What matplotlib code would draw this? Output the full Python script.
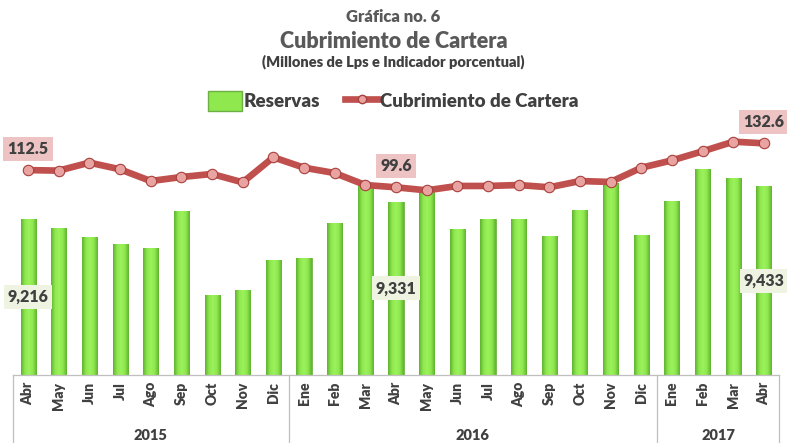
import matplotlib
matplotlib.use("Agg")
import matplotlib.pyplot as plt
import numpy as np
from matplotlib.patches import Patch
from matplotlib.lines import Line2D
from matplotlib.colors import LinearSegmentedColormap
import matplotlib.transforms as mtransforms

plt.rcParams['font.family'] = ['Lato', 'DejaVu Sans']
FW = 'heavy'
plt.rcParams['font.weight'] = FW

months = ["Abr", "May", "Jun", "Jul", "Ago", "Sep", "Oct", "Nov", "Dic",
          "Ene", "Feb", "Mar", "Abr", "May", "Jun", "Jul", "Ago", "Sep", "Oct", "Nov", "Dic",
          "Ene", "Feb", "Mar", "Abr"]
years = ["2015", "2016", "2017"]
year_sizes = [9, 12, 4]

reservas = [9216, 9159, 9096, 9052, 9028, 9271, 8716, 8747, 8949,
            8960, 9192, 9440, 9331, 9400, 9149, 9216, 9216, 9105, 9278, 9451, 9111,
            9337, 9545, 9486, 9433]
cubrimiento = [112.5, 112.1, 118.1, 113.1, 104.3, 107.3, 109.6, 103.3, 122.1,
               114.3, 110.3, 101.3, 99.6, 97.3, 100.6, 100.6, 101.3, 99.6, 104.3, 103.6, 114.3,
               119.8, 126.6, 133.8, 132.6]

label_idx = [0, 12, 24]

W, H = 787, 443
fig = plt.figure(figsize=(W / 100, H / 100), dpi=100)
ax_left, ax_right = 12.7, 779.3
ax_top, ax_bot = 130, 375
ax = fig.add_axes([ax_left / W, 1 - ax_bot / H, (ax_right - ax_left) / W, (ax_bot - ax_top) / H])
ax2 = ax.twinx()

x = np.arange(len(months))
ymin = 8190
ylim = (ymin, ymin + 245 * 6.58)

cmap = LinearSegmentedColormap.from_list("g", ["#5FB22F", "#8EE84E", "#9CF25C", "#8EE84E", "#5FB22F"])
grad = np.linspace(0, 1, 64).reshape(1, -1)
bars = ax.bar(x, np.array(reservas) - ymin, bottom=ymin, width=0.49,
              color="#8EE84E", edgecolor="#6DAF45", linewidth=0.6, zorder=2)
for b in bars:
    bx, by = b.get_x(), b.get_y()
    bw, bh = b.get_width(), b.get_height()
    im = ax.imshow(grad, cmap=cmap, extent=[bx, bx + bw, by, by + bh], aspect='auto', zorder=2.1)
    im.set_clip_path(b)
ax.set_xlim(-0.5, len(months) - 0.5)
ax.set_ylim(*ylim)

ax2.plot(x, cubrimiento, color="#C0504D", lw=4.8, marker='o', markersize=7.5,
         markerfacecolor="#E9A3A1", markeredgecolor="#A8403D", markeredgewidth=0.8,
         solid_capstyle='round', zorder=5)
ax2.set_ylim(99.6 - (375 - 187.3) * 0.75, 99.6 + (187.3 - 130) * 0.75)

for a in (ax, ax2):
    for s in ('top', 'left', 'right'):
        a.spines[s].set_visible(False)
    a.set_yticks([])
ax2.spines['bottom'].set_visible(False)
ax.spines['bottom'].set_color('#BFBFBF')
ax.spines['bottom'].set_linewidth(0.9)

ax.set_xticks(x)
ax.set_xticklabels(months, rotation=90, fontsize=10, color='#404040', fontweight=FW)
ax.tick_params(axis='x', length=0, pad=5)

trans = mtransforms.blended_transform_factory(ax.transData, ax.transAxes)
bounds = np.concatenate([[0], np.cumsum(year_sizes)]) - 0.5
for bd in bounds:
    ax.plot([bd, bd], [0, -0.3], transform=trans, color='#BFBFBF', lw=0.9, clip_on=False)
for i, yr in enumerate(years):
    cx = (bounds[i] + bounds[i + 1]) / 2
    ax.text(cx, -0.245, yr, transform=trans, ha='center', va='center', fontsize=10.5,
            color='#404040', fontweight=FW)

# data labels
for i in label_idx:
    ax2.annotate(f"{cubrimiento[i]:.1f}", (x[i], cubrimiento[i]), xytext=(0, 15),
                 textcoords='offset points', ha='center', va='center', fontsize=11.5,
                 color='#404040', fontweight=FW,
                 bbox=dict(boxstyle='square,pad=0.25', fc='#EDC4C3', ec='none'), zorder=6)
    ax.text(x[i], (ymin + reservas[i]) / 2, f"{reservas[i]:,}", ha='center', va='center',
            fontsize=11.5, color='#404040', fontweight=FW, zorder=6,
            bbox=dict(boxstyle='square,pad=0.25', fc='#EEF3E2', ec='none'))

# titles
fig.text(0.5, 1 - 17 / H, "Gráfica no. 6", ha='center', va='center', fontsize=12, color='#595959', fontweight=FW)
fig.text(0.5, 1 - 42 / H, "Cubrimiento de Cartera", ha='center', va='center', fontsize=15.5, color='#595959', fontweight=FW)
fig.text(0.5, 1 - 62 / H, "(Millones de Lps e Indicador porcentual)", ha='center', va='center', fontsize=10.5, color='#404040', fontweight=FW)

handles = [Patch(facecolor='#8EE84E', edgecolor='#6DAF45'),
           Line2D([0], [0], color="#C0504D", lw=4.8, marker='o', markersize=6,
                  markerfacecolor="#E9A3A1", markeredgecolor="#A8403D")]
fig.legend(handles, ["Reservas", "Cubrimiento de Cartera"], loc='center', bbox_to_anchor=(0.5, 1 - 101 / H),
           ncol=2, frameon=False, fontsize=13.5, handlelength=1.8, handleheight=1.2, handletextpad=0.1,
           columnspacing=1.3, labelcolor='#404040')

fig.savefig("out.png", dpi=100)
